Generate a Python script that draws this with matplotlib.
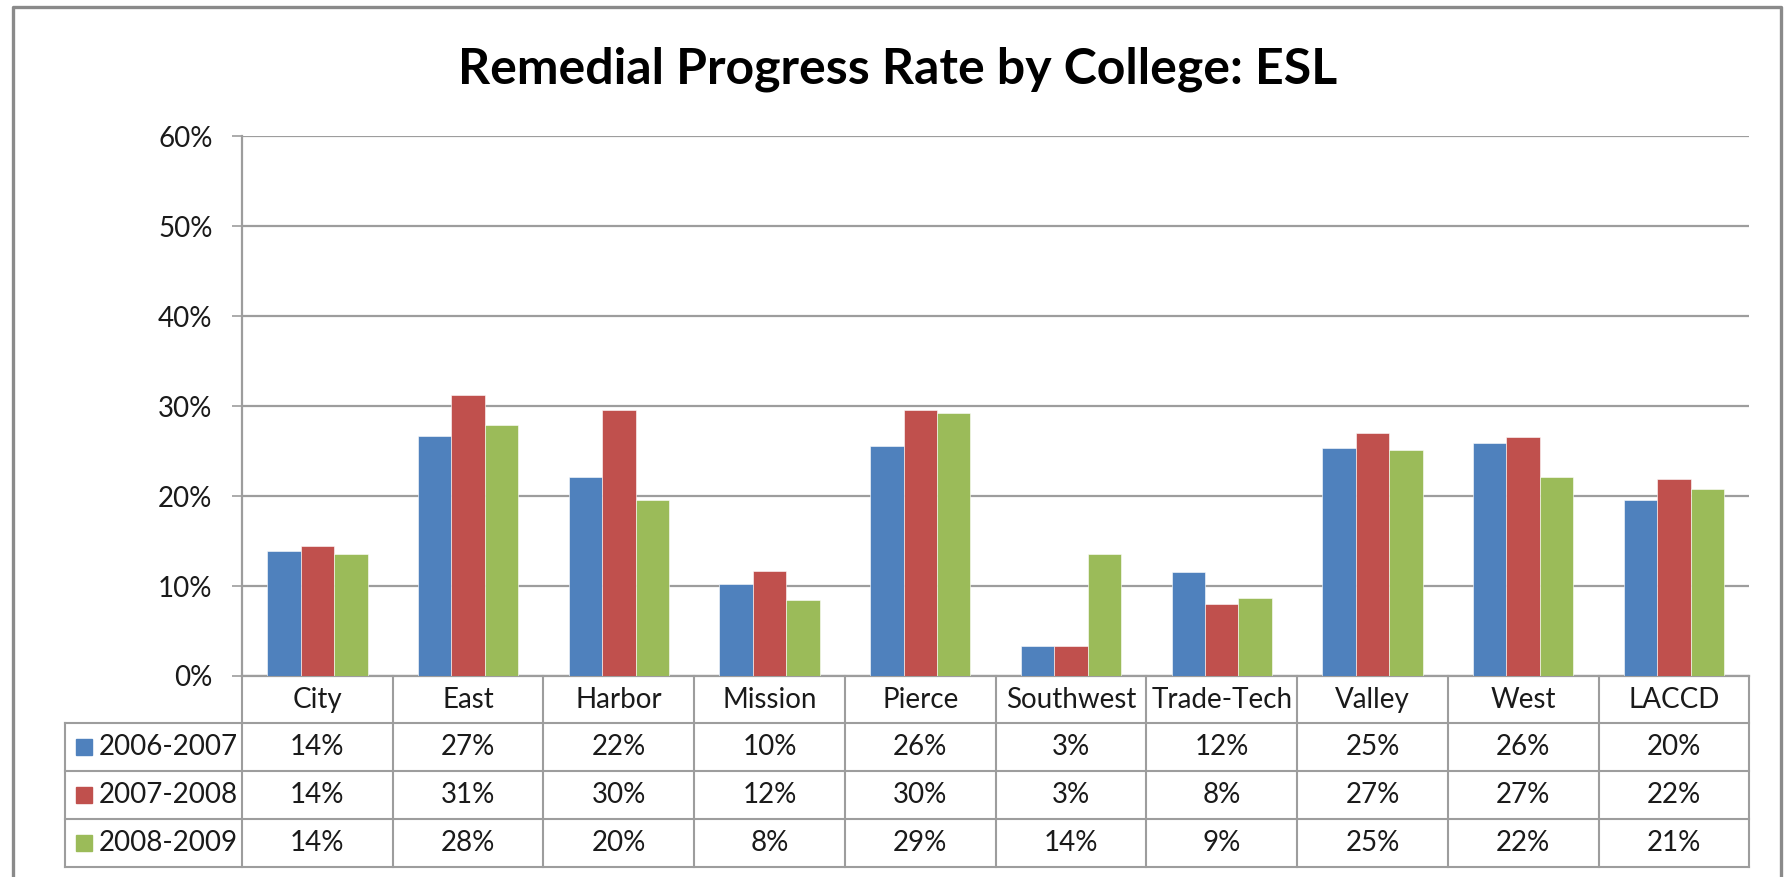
import matplotlib.pyplot as plt
import numpy as np
from matplotlib.lines import Line2D

# data
colleges = ['City', 'East', 'Harbor', 'Mission', 'Pierce', 'Southwest',
            'Trade-Tech', 'Valley', 'West', 'LACCD']
years = ['2006-2007', '2007-2008', '2008-2009']
rate_0607 = [13.9, 26.7, 22.1, 10.2, 25.6, 3.3, 11.6, 25.4, 25.9, 19.6]
rate_0708 = [14.4, 31.2, 29.6, 11.7, 29.6, 3.3, 8.0, 27.0, 26.6, 21.9]
rate_0809 = [13.6, 27.9, 19.6, 8.4, 29.2, 13.6, 8.7, 25.1, 22.1, 20.8]
series = [rate_0607, rate_0708, rate_0809]
colors = ['#4F81BD', '#C0504D', '#9BBB59']

plt.rcParams['font.family'] = ['Lato', 'DejaVu Sans']
txt_color = '#1a1a1a'
line_color = '#9d9d9d'
fs = 20

W, H = 1784, 877
fig = plt.figure(figsize=(W / 100, H / 100), dpi=100)


def fx(px):
    return px / W


def fy(py):
    return 1 - py / H


ax_left, ax_right, ax_top, ax_bot = 242, 1749.3, 136.3, 676
ax = fig.add_axes([fx(ax_left), fy(ax_bot), fx(ax_right) - fx(ax_left), fy(ax_top) - fy(ax_bot)])

x = np.arange(len(colleges))
bw = 0.222
for i, vals in enumerate(series):
    ax.bar(x + (i - 1) * bw, vals, bw, color=colors[i], edgecolor='white',
           linewidth=0.4, zorder=3, label=years[i])

ax.set_xlim(-0.5, len(colleges) - 0.5)
ax.set_ylim(0, 60)
ax.set_yticks(range(0, 61, 10))
ax.set_yticklabels(['{}%'.format(v) for v in range(0, 61, 10)], fontsize=fs, color=txt_color)
ax.set_xticks([])
ax.tick_params(axis='y', length=7.2, width=1.2, color=line_color, pad=14)
ax.grid(axis='y', color=line_color, linewidth=1.6, zorder=0)
for s in ['top', 'right']:
    ax.spines[s].set_visible(False)
for s in ['left', 'bottom']:
    ax.spines[s].set_color(line_color)
    ax.spines[s].set_linewidth(1.6)

# data table under the axis
cat_w = (ax_right - ax_left) / len(colleges)


def dx(px):
    return -0.5 + (px - ax_left) / cat_w


def ay(py):
    return (ax_bot - py) / (ax_bot - ax_top)


trans = ax.get_xaxis_transform()
row_px = [676, 723.3, 771, 819, 866.7]
leg_left = 64.7
kw = dict(transform=trans, clip_on=False, color=line_color, linewidth=1.5)

# horizontal lines
for r in row_px[1:]:
    ax.plot([dx(leg_left), len(colleges) - 0.5], [ay(r)] * 2, **kw)
# vertical lines
ax.plot([dx(leg_left)] * 2, [ay(row_px[1]), ay(row_px[-1])], **kw)
for b in np.arange(len(colleges) + 1) - 0.5:
    ax.plot([b, b], [ay(row_px[0]), ay(row_px[-1])], **kw)

# header
for j, name in enumerate(colleges):
    ax.text(j, ay((row_px[0] + row_px[1]) / 2), name, transform=trans, ha='center',
            va='center', fontsize=fs, color=txt_color)

# rows
for i, vals in enumerate(series):
    yc = ay((row_px[i + 1] + row_px[i + 2]) / 2)
    ax.plot([dx(84)], [yc], marker='s', markersize=11.5, color=colors[i],
            transform=trans, clip_on=False, linestyle='none')
    ax.text(dx(99), yc, years[i], transform=trans, ha='left', va='center',
            fontsize=fs, color=txt_color)
    for j, v in enumerate(vals):
        ax.text(j, yc, '{:.0f}%'.format(v), transform=trans, ha='center',
                va='center', fontsize=fs, color=txt_color)

# title
fig.text(fx(898), fy(83.3), 'Remedial Progress Rate by College: ESL', ha='center',
         va='baseline', fontsize=36, fontweight='bold', color='black')

# outer chart frame (bottom edge is cut off)
fig.add_artist(Line2D([fx(12.6), fx(12.6), fx(1781), fx(1781)],
                      [fy(920), fy(7.3), fy(7.3), fy(920)],
                      transform=fig.transFigure, color='#8a8a8a', linewidth=2.4))

plt.savefig('out.png', dpi=100)
plt.close()
